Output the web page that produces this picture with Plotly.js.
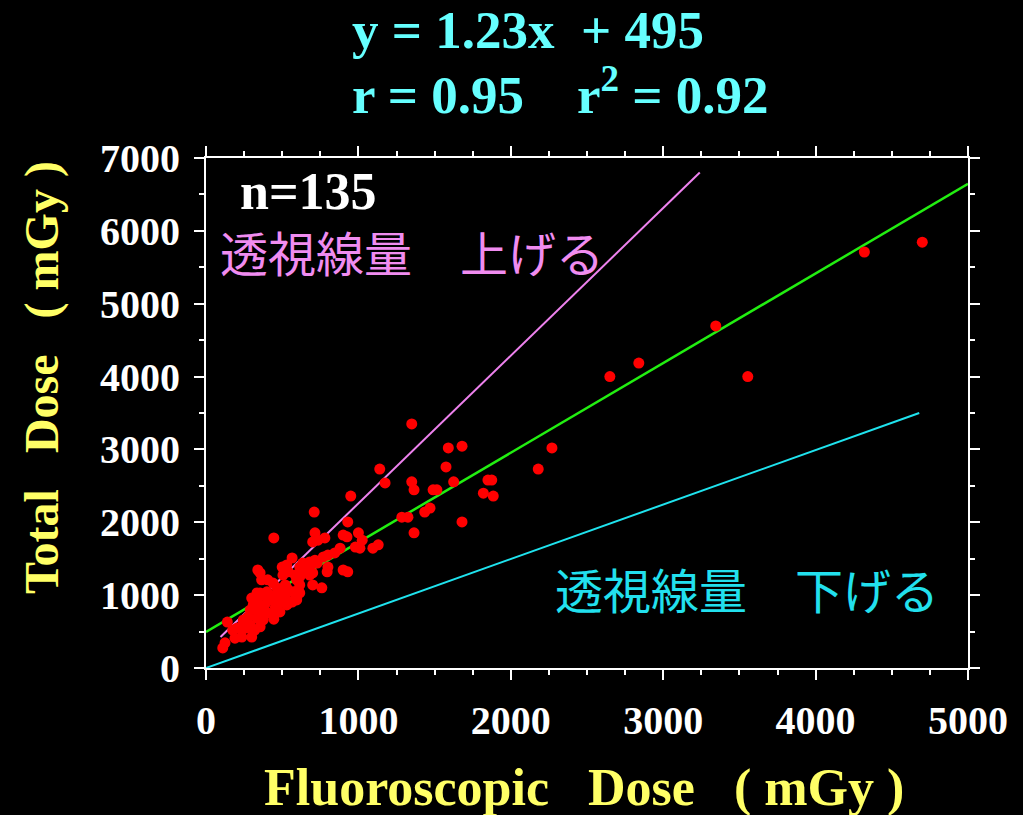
<!DOCTYPE html>
<html>
<head>
<meta charset="utf-8">
<script src="https://cdn.plot.ly/plotly-3.0.1.min.js"></script>
<style>
html,body{margin:0;padding:0;background:#000;}
#chart{width:1023px;height:815px;}
</style>
</head>
<body>
<div id="chart"></div>
<script>
// Fluoroscopic dose (mGy)
const fluoroDose = [
  2650, 2840, 3345, 3555, 4320, 4700, 2270, 2180,
  1350, 1590, 1680, 1575, 1140, 1175, 1350, 1365, 1625, 1490, 1515, 1850, 1875, 1820, 1885, 950,
  1435, 1470, 1285, 1325, 1680, 930, 1365, 900, 925, 1000, 1025, 1010, 1095, 1130, 980, 880,
  845, 800, 770, 900, 930,
  710, 715, 735, 700, 780, 565, 715, 680, 635, 615, 800, 795, 540, 585, 635, 670, 700, 595,
  615, 700, 760, 520, 530, 500, 605, 615, 595, 565, 595, 680,
  445, 500, 530, 340, 355, 405, 440, 335, 300, 375, 420, 470, 500, 530, 340, 385, 455, 290,
  335, 365, 405, 455, 275, 335, 375, 445, 140, 245, 290, 205, 235, 320, 300, 190, 235, 125, 110,
  465, 485, 520, 400, 355, 310, 485, 440, 355, 175, 505, 520, 570,
  420, 540, 615, 680, 730, 245, 270, 365, 505, 340
];
// Total dose (mGy)
const totalDose = [
  4000, 4185, 4695, 4000, 5710, 5845, 3020, 2730,
  3350, 3020, 3045, 2760, 2730, 2540, 2555, 2445, 2555, 2445, 2445, 2580, 2580, 2400, 2360, 2360,
  2140, 2195, 2070, 2070, 2005, 2005, 1855, 1825, 1800, 1855, 1755, 1645, 1645, 1690, 1660, 1645,
  1580, 1550, 1525, 1345, 1320,
  2140, 1855, 1755, 1730, 1785, 1510, 1480, 1455, 1440, 1385, 1385, 1320, 1320, 1275, 1320, 1305, 1305, 1210,
  1250, 1140, 1100, 1140, 1100, 1045, 1070, 1030, 960, 905, 935, 1275,
  1785, 1385, 1415, 1345, 1305, 1210, 1165, 1030, 960, 1000, 1000, 975, 905, 865, 890, 865, 835, 795,
  795, 770, 755, 770, 700, 685, 660, 670, 630, 620, 590, 550, 520, 520, 425, 410, 425, 345, 275,
  1100, 1030, 905, 1045, 1030, 865, 770, 935, 565, 520, 1070, 975, 1045,
  935, 890, 1140, 1385, 1440, 660, 550, 1210, 1275, 770
];
// Regression line y = 1.23x + 495
const regX = [0, 5000];
const regY = [495, 6645];
// Reference line (increase fluoroscopy)
const upX = [95, 3240];
const upY = [425, 6800];
// Reference line (decrease fluoroscopy)
const downX = [0, 4680];
const downY = [0, 3500];

const xTickVals = [0, 1000, 2000, 3000, 4000, 5000];
const yTickVals = [0, 1000, 2000, 3000, 4000, 5000, 6000, 7000];

const titleLine1 = "y = 1.23x  + 495";
const titleLine2 = "r = 0.95    r<sup>2</sup> = 0.92";
const nLabel = "n=135";
const upLabel = "透視線量　上げる";
const downLabel = "透視線量　下げる";
const xTitle = "Fluoroscopic   Dose   ( mGy )";
const yTitle = "Total   Dose   ( mGy )";

// pixel -> paper helpers (plot area: x 206..968, y 158..668)
const L = 206, R = 968, T = 158, B = 668;
const px = p => (p - L) / (R - L);
const py = p => (B - p) / (B - T);

const serif = "Liberation Serif, Times New Roman, serif";
const cjk = "Noto Sans CJK JP, Noto Sans CJK SC, sans-serif";

const traces = [
  {x: downX, y: downY, mode: 'lines', line: {color: '#1fe3ee', width: 2}, hoverinfo: 'skip'},
  {x: upX, y: upY, mode: 'lines', line: {color: '#ee82ee', width: 2}, hoverinfo: 'skip'},
  {x: regX, y: regY, mode: 'lines', line: {color: '#22ee11', width: 2.5}, hoverinfo: 'skip'},
  {x: fluoroDose, y: totalDose, mode: 'markers', marker: {color: '#ff0000', size: 11}, cliponaxis: false}
];

const axisCommon = {
  showline: true, linecolor: '#ffffff', linewidth: 2, mirror: 'ticks',
  ticks: 'outside', ticklen: 10, tickwidth: 2, tickcolor: '#ffffff',
  showgrid: false, zeroline: false,
  tickfont: {family: serif, size: 40, color: '#ffffff', weight: 'bold'}
};

const layout = {
  width: 1023, height: 815,
  paper_bgcolor: '#000000', plot_bgcolor: '#000000',
  showlegend: false,
  margin: {l: L, r: 1023 - R, t: T, b: 815 - B, pad: 0},
  xaxis: Object.assign({}, axisCommon, {
    range: [0, 5000], tickvals: xTickVals, ticklabelstandoff: 6,
    minor: {ticks: 'outside', ticklen: 5, tickwidth: 2, tickcolor: '#ffffff', dtick: 250, tick0: 0, showgrid: false}
  }),
  yaxis: Object.assign({}, axisCommon, {
    range: [0, 7000], tickvals: yTickVals, ticklabelstandoff: 6,
    minor: {ticks: 'outside', ticklen: 5, tickwidth: 2, tickcolor: '#ffffff', dtick: 500, tick0: 0, showgrid: false}
  }),
  annotations: [
    {text: titleLine1, xref: 'paper', yref: 'paper', x: px(350), y: py(30), xanchor: 'left', yanchor: 'middle',
     showarrow: false, font: {family: serif, size: 53, color: '#66ffff', weight: 'bold'}},
    {text: titleLine2, xref: 'paper', yref: 'paper', x: px(350), y: py(91), xanchor: 'left', yanchor: 'middle',
     showarrow: false, font: {family: serif, size: 53, color: '#66ffff', weight: 'bold'}},
    {text: nLabel, xref: 'paper', yref: 'paper', x: px(238), y: py(191), xanchor: 'left', yanchor: 'middle',
     showarrow: false, font: {family: serif, size: 52, color: '#ffffff', weight: 'bold'}},
    {text: upLabel, xref: 'paper', yref: 'paper', x: px(218), y: py(251), xanchor: 'left', yanchor: 'middle',
     showarrow: false, font: {family: cjk, size: 48, color: '#f08cf0'}},
    {text: downLabel, xref: 'paper', yref: 'paper', x: px(553), y: py(588), xanchor: 'left', yanchor: 'middle',
     showarrow: false, font: {family: cjk, size: 48, color: '#22e0ee'}},
    {text: xTitle, xref: 'paper', yref: 'paper', x: px(584), y: py(788), xanchor: 'center', yanchor: 'middle',
     showarrow: false, font: {family: serif, size: 52, color: '#ffff66', weight: 'bold'}},
    {text: yTitle, xref: 'paper', yref: 'paper', x: px(42), y: py(378), xanchor: 'center', yanchor: 'middle',
     textangle: -90, showarrow: false, font: {family: serif, size: 48, color: '#ffff66', weight: 'bold'}}
  ]
};

Plotly.newPlot('chart', traces, layout, {displayModeBar: false, staticPlot: true});
</script>
</body>
</html>
